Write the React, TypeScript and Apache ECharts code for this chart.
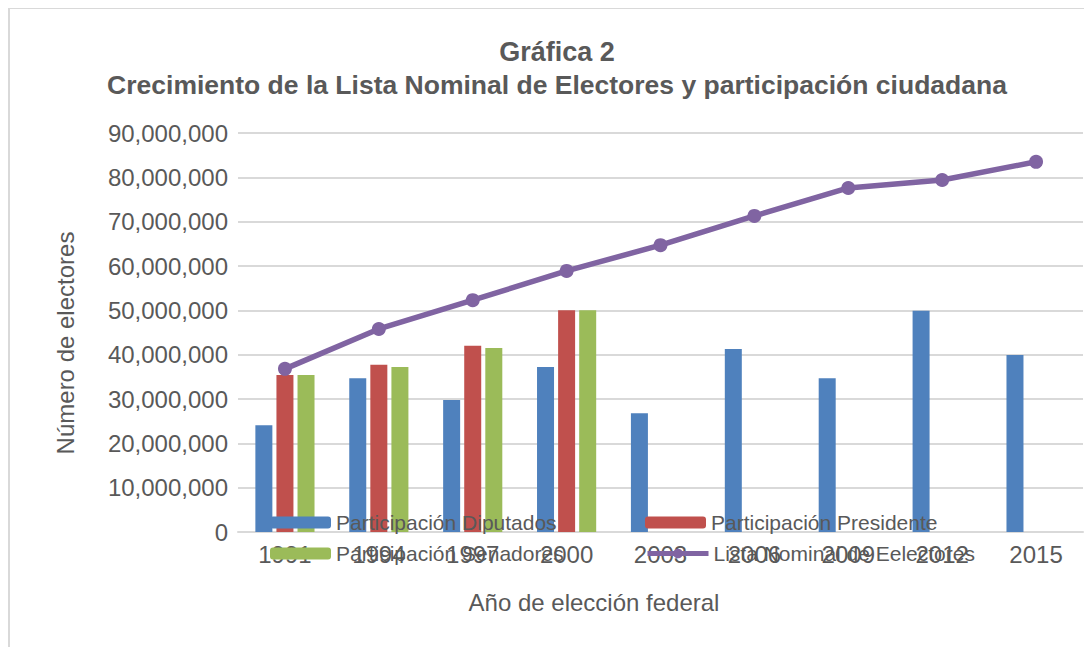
import React, { useEffect, useRef } from "react";
import * as echarts from "echarts";

const years = ["1991", "1994", "1997", "2000", "2003", "2006", "2009", "2012", "2015"];
const diputados = [24100000, 34700000, 29800000, 37200000, 26800000, 41300000, 34700000, 49900000, 39900000];
const presidente = [35400000, 37700000, 42000000, 50000000, null, null, null, null, null];
const senadores = [35400000, 37200000, 41500000, 50000000, null, null, null, null, null];
const listaNominal = [36800000, 45800000, 52300000, 58900000, 64700000, 71300000, 77600000, 79400000, 83500000];

const titleLine1 = "Gráfica 2";
const titleLine2 = "Crecimiento de la Lista Nominal de Electores y participación ciudadana";
const xAxisName = "Año de elección federal";
const yAxisName = "Número de electores";
const seriesNames = [
  "Participación Diputados",
  "Participación Presidente",
  "Participación Senadores",
  "Lista Nominal de Eelectores",
];

const FONT = "'Liberation Sans', Arial, sans-serif";
const TXT = "#595959";

export default function App() {
  const ref = useRef<HTMLDivElement>(null);
  useEffect(() => {
    if (!ref.current) return;
    const chart = echarts.init(ref.current, null, { renderer: "svg" });
    const fmt = (v: number) => v.toLocaleString("en-US");
    chart.setOption({
      animation: false,
      textStyle: { fontFamily: FONT, color: TXT },
      graphic: [
        {
          type: "rect",
          shape: { x: 1, y: 0, width: 3000, height: 3000 },
          style: { fill: "none", stroke: "#d9d9d9", lineWidth: 2 },
          silent: true,
        },
        {
          type: "text",
          x: 549,
          y: 44,
          style: {
            text: titleLine1,
            font: `bold 27px ${FONT}`,
            fill: TXT,
            textAlign: "center",
            textVerticalAlign: "middle",
          },
        },
        {
          type: "text",
          x: 549,
          y: 77,
          style: {
            text: titleLine2,
            font: `bold 26.5px ${FONT}`,
            fill: TXT,
            textAlign: "center",
            textVerticalAlign: "middle",
          },
        },
        {
          type: "text",
          x: 586,
          y: 594,
          style: {
            text: xAxisName,
            font: `24px ${FONT}`,
            fill: TXT,
            textAlign: "center",
            textVerticalAlign: "middle",
          },
        },
        {
          type: "text",
          x: 57,
          y: 335,
          rotation: Math.PI / 2,
          style: {
            text: yAxisName,
            font: `24px ${FONT}`,
            fill: TXT,
            textAlign: "center",
            textVerticalAlign: "middle",
          },
        },
      ],
      grid: { left: 230, right: 9, top: 125, bottom: 115, containLabel: false },
      legend: {
        left: 262,
        top: 504,
        width: 745,
        padding: 0,
        itemWidth: 61,
        itemHeight: 12,
        itemGap: 10,
        data: seriesNames,
        lineStyle: { width: 5 },
        textStyle: {
          fontFamily: FONT,
          fontSize: 21,
          color: TXT,
          width: 299,
          lineHeight: 14,
        },
      },
      xAxis: {
        type: "category",
        data: years,
        axisLine: { lineStyle: { color: "#d9d9d9", width: 2 } },
        axisTick: { show: false },
        axisLabel: { fontSize: 24, color: TXT, margin: 10, fontFamily: FONT },
      },
      yAxis: {
        type: "value",
        min: 0,
        max: 90000000,
        interval: 10000000,
        axisLine: { show: false },
        axisTick: { show: false },
        axisLabel: { fontSize: 24, color: TXT, margin: 10, formatter: fmt, fontFamily: FONT },
        splitLine: { lineStyle: { color: "#d9d9d9", width: 2 } },
      },
      series: [
        {
          name: seriesNames[0],
          type: "bar",
          data: diputados,
          barWidth: 17,
          barGap: "24%",
          itemStyle: { color: "#4f81bd" },
        },
        {
          name: seriesNames[1],
          type: "bar",
          data: presidente,
          barWidth: 17,
          barGap: "24%",
          itemStyle: { color: "#c0504d" },
        },
        {
          name: seriesNames[2],
          type: "bar",
          data: senadores,
          barWidth: 17,
          barGap: "24%",
          itemStyle: { color: "#9bbb59" },
        },
        {
          name: seriesNames[3],
          type: "line",
          data: listaNominal,
          symbol: "circle",
          symbolSize: 14,
          lineStyle: { color: "#8064a2", width: 5.5 },
          itemStyle: { color: "#8064a2" },
          z: 5,
        },
      ],
    });
    return () => chart.dispose();
  }, []);
  return <div ref={ref} style={{ width: 1084, height: 639 }} />;
}
